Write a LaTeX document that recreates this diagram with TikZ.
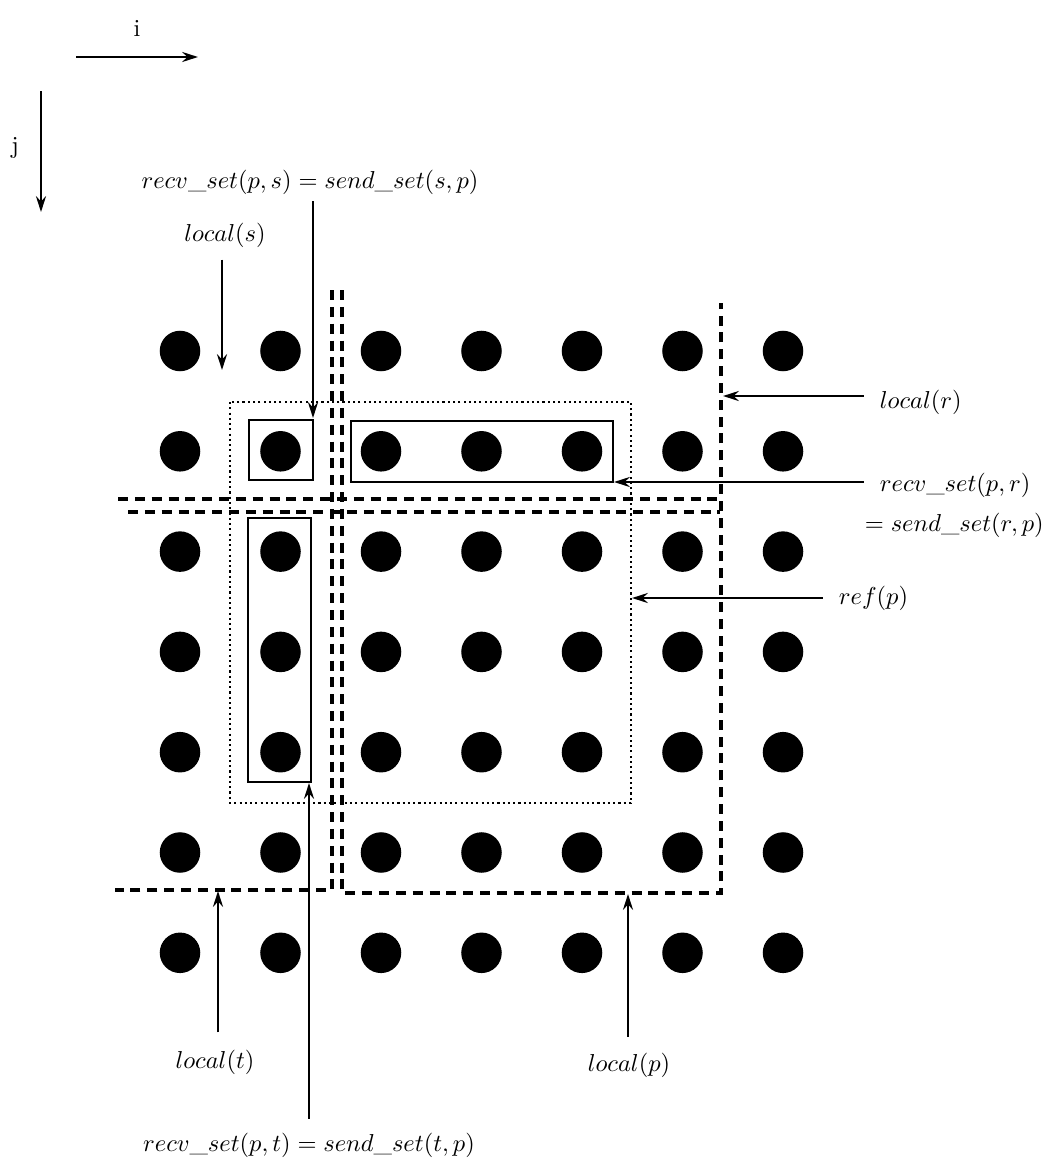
\documentclass[tikz,border=0pt]{standalone}
\usetikzlibrary{arrows.meta}
\begin{document}
\begin{tikzpicture}[x=0.38pt,y=-0.38pt,
  dot/.style={circle,fill=black,inner sep=0pt,minimum size=15.4pt},
  arr/.style={line width=1pt,-{Stealth[length=6pt,width=3.8pt,inset=2pt]}},
  dashln/.style={line width=1.3pt,dash pattern=on 3.8pt off 2.6pt},
  dotln/.style={line width=1pt,dash pattern=on 0.8pt off 1.2pt},
  boxln/.style={line width=0.9pt},
  lbl/.style={inner sep=1pt,scale=0.93}]
\useasboundingbox (0,0) rectangle (1050,1160);

% axes
\node[lbl] (iL) at (137,28) {i};
\coordinate (iFrom) at (76,57);
\coordinate (iTo) at (198,57);
\draw[arr] (iFrom) -- (iTo);
\node[lbl] (jL) at (15,148) {j};
\coordinate (jFrom) at (41,91);
\coordinate (jTo) at (41,212);
\draw[arr] (jFrom) -- (jTo);

% dots
\foreach \r in {0,...,6}{
  \foreach \c in {0,...,6}{
    \node[dot] (d\r\c) at ({180+100.5*\c},{351+100.3*\r}) {};
  }
}

% dashed partition lines (local regions)
\draw[dashln] (332,290) -- (332,890) -- (115,890);
\draw[dashln] (342,290) -- (342,893) -- (721,893) -- (721,303);
\draw[dashln] (118,499) -- (717,499);
\draw[dashln] (128,512) -- (720,512);

% dotted ref(p)
\coordinate (ref-nw) at (230,402);
\coordinate (ref-se) at (631,803);
\draw[dotln] (ref-nw) rectangle (ref-se);

% solid receive boxes
\coordinate (sbox-nw) at (249,420);
\coordinate (sbox-se) at (313,480);
\draw[boxln] (sbox-nw) rectangle (sbox-se);
\coordinate (rbox-nw) at (351,421);
\coordinate (rbox-se) at (613,482);
\draw[boxln] (rbox-nw) rectangle (rbox-se);
\coordinate (tbox-nw) at (248,518);
\coordinate (tbox-se) at (311,782);
\draw[boxln] (tbox-nw) rectangle (tbox-se);

% labels and arrows
\node[lbl] (rs) at (310,182) {$recv\_set(p,s) = send\_set(s,p)$};
\coordinate (rsTip) at (313,418);
\draw[arr] ([yshift=-1.5pt]rs.south -| rsTip) -- (rsTip);

\node[lbl] (ls) at (225,235) {$local(s)$};
\coordinate (lsTip) at (222,370);
\draw[arr] ([yshift=-3.6pt]ls.south -| lsTip) -- (lsTip);

\node[lbl,anchor=west] (lr) at (877,402) {$local(r)$};
\coordinate (lrTip) at (723,396);
\draw[arr] ([xshift=-5pt]lr.west |- lrTip) -- (lrTip);

\node[lbl,anchor=west] (rr) at (877,485) {$recv\_set(p,r)$};
\coordinate (rrTip) at (614,482);
\draw[arr] ([xshift=-5pt]rr.west |- rrTip) -- (rrTip);
\node[lbl,anchor=west] (sr) at (862,525) {$= send\_set(r,p)$};

\node[lbl,anchor=west] (rp) at (836,598) {$ref(p)$};
\coordinate (rpTip) at (632,598);
\draw[arr] ([xshift=-5pt]rp.west |- rpTip) -- (rpTip);

\node[lbl] (lt) at (215,1062) {$local(t)$};
\coordinate (ltTip) at (218,891);
\draw[arr] ([yshift=5.5pt]lt.north -| ltTip) -- (ltTip);

\node[lbl] (lp) at (629,1065) {$local(p)$};
\coordinate (lpTip) at (628,894);
\draw[arr] ([yshift=5pt]lp.north -| lpTip) -- (lpTip);

\node[lbl] (rt) at (309,1145) {$recv\_set(p,t) = send\_set(t,p)$};
\coordinate (rtTip) at (309,783);
\draw[arr] ([yshift=4.2pt]rt.north -| rtTip) -- (rtTip);
\end{tikzpicture}
\end{document}
